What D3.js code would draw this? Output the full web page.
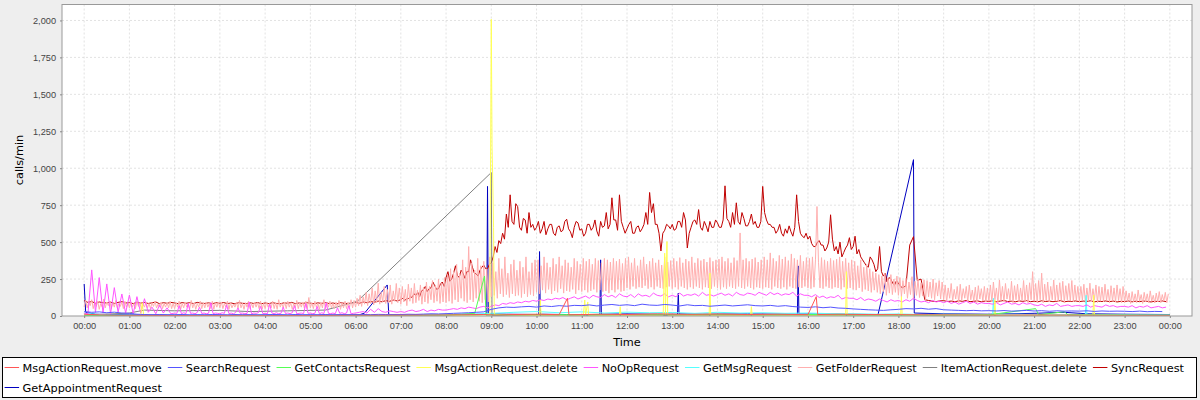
<!DOCTYPE html>
<meta charset="utf-8">
<style>

html, body {
  margin: 0;
  padding: 0;
  background: #eeeeee;
}

svg {
  display: block;
  font-family: "DejaVu Sans", sans-serif;
}

.grid line {
  stroke: #c4c4c4;
  stroke-width: 0.5;
  stroke-dasharray: 2,2;
}

.axis text {
  font-size: 9.2px;
  fill: #444;
}

.axis line, .axis path {
  stroke: #888;
}

.series path {
  fill: none;
  stroke-width: 1;
  stroke-linejoin: round;
}

.label, .legend text {
  font-size: 11.3px;
  fill: #000;
}

</style>
<svg class="chart"></svg>
<script src="https://d3js.org/d3.v7.min.js"></script>
<script>

// values, calls per minute
// regular series: one row per hour, samples spread evenly across the hour
var syncByHour = [
  [104,92,98,86,95,90,88,94,85,92,97,88],
  [90,84,93,87,91,85,89,95,83,90,86,92],
  [88,83,91,86,90,84,92,87,85,89,83,90],
  [86,91,84,88,82,90,86,84,89,85,91,83],
  [88,84,90,85,83,89,86,92,84,88,85,90],
  [87,83,89,85,91,84,88,82,90,86,84,89],
  [92,86,95,90,98,93,101,96,104,99,108,102],
  [110,120,105,115,118,130,126,150,140,160,132,170,178,200,165,185,190,230,205,180,185,215,230,200],
  [260,300,235,250,290,340,275,260,310,290,255,300,300,380,330,290,285,270,310,330,345,320,320,350],
  [360,400,470,430,510,490,560,520,690,600,820,640,620,760,740,600,580,660,650,560,700,600,620,580],
  [600,640,560,590,640,550,590,620,620,560,545,600,610,570,580,640,655,590,570,530,600,640,630,580],
  [590,540,560,620,620,580,600,650,575,540,640,600,610,700,590,620,800,650,650,580,820,640,600,560],
  [590,620,640,560,560,600,610,570,590,620,700,620,836,700,760,620,620,560,440,560,580,620,610,590],
  [620,580,590,640,640,600,700,650,460,560,600,640,650,620,720,600,580,640,610,570,640,600,600,650],
  [630,600,600,650,881,660,640,600,700,620,766,640,620,700,660,610,610,640,690,620,640,600,600,640],
  [877,700,650,620,620,600,600,560,580,620,560,540,590,560,610,570,540,600,820,640,560,540,530,560],
  [520,540,490,470,470,500,510,480,480,440,460,500,685,520,440,470,420,500,400,430,460,480,530,450],
  [470,540,420,450,400,380,360,340,330,400,380,350,300,320,470,300,270,290,230,260,250,220,210,240],
  [220,190,205,480,537,240,250,110,105,100,98,102],
  [104,98,101,96,103,99,105,97,100,102,96,101],
  [99,103,97,101,105,98,100,96,102,99,104,97],
  [100,96,103,98,101,97,99,104,96,100,98,102],
  [97,101,99,103,96,100,98,102,97,101,95,99],
  [98,102,96,100,97,101,99,95,100,98,102,97]
];

var folderByHour = [
  [60,105,55,95,70,110,50,90,65,100,45,85,60,115,55,95,70,100,50,90,60,105,55,85,65,95,50,100,60,90],
  [55,95,60,85,50,100,65,90,45,80,60,95,55,85,50,90,65,100,55,80,60,95,50,85,60,90,55,100,50,85],
  [50,90,60,100,45,85,55,95,60,80,50,105,55,90,45,85,60,100,50,90,55,95,60,85,50,100,45,90,60,95],
  [55,95,50,85,60,100,45,90,55,80,60,95,50,105,55,85,45,90,60,100,50,85,55,95,60,90,50,100,45,85],
  [50,95,60,85,55,100,50,90,45,110,60,85,55,95,50,100,60,90,45,85,55,105,50,90,60,95,55,100,50,125],
  [55,90,50,100,60,85,45,95,55,110,50,90,60,100,55,85,50,95,60,105,45,90,55,100,50,95,60,110,55,105],
  [60,120,70,140,65,130,80,160,70,150,85,190,75,170,90,222,80,160,95,200,85,180,90,210,80,170,100,220,90,190],
  [80,200,95,180,70,215,100,190,85,220,90,175,105,210,80,195,95,230,85,200,110,240,90,210,100,250,85,220,95,260],
  [90,280,100,320,85,300,110,350,95,290,120,380,100,330,90,470,110,360,95,310,120,390,100,340,90,370,110,320,95,400],
  [130,360,140,300,120,390,150,320,130,400,145,290,125,350,150,380,135,310,140,370,125,330,150,400,130,300,145,360,135,380],
  [160,380,150,340,175,400,155,360,180,330,150,390,170,350,160,400,185,340,155,380,170,360,165,330,180,390,150,370,175,350],
  [165,390,175,370,160,385,170,350,180,390,160,375,175,360,165,390,170,380,155,365,175,390,160,370,180,385,165,355,170,390],
  [190,400,180,360,200,390,185,340,195,380,190,400,205,350,185,370,195,390,180,360,200,380,190,345,185,400,195,365,200,375],
  [185,390,195,370,180,395,200,360,190,385,180,370,195,400,185,360,200,390,190,375,180,385,195,365,190,395,185,370,200,380],
  [190,385,180,400,195,370,185,390,200,360,190,395,185,375,200,562,190,380,185,390,200,370,190,385,180,395,195,365,190,380],
  [185,400,195,380,190,427,180,390,200,370,190,410,185,385,195,400,180,375,200,420,190,390,185,380,195,410,190,370,200,395],
  [190,390,185,400,195,380,741,360,190,395,185,380,200,370,190,390,185,375,195,385,190,400,180,370,195,390,185,360,190,380],
  [180,370,175,340,190,380,165,330,180,350,170,320,160,300,175,290,160,280,150,270,165,290,140,260,155,280,145,250,160,270],
  [140,260,130,240,150,255,120,230,145,266,115,235,140,250,125,225,135,245,110,240,130,230,120,250,110,225,135,240,115,230],
  [110,210,95,190,120,220,100,180,115,200,90,215,105,185,120,200,95,210,110,176,100,195,90,205,115,185,100,200,95,190],
  [100,210,95,230,110,190,90,244,105,200,95,220,115,185,100,235,90,205,110,215,95,190,105,240,100,210,90,225,110,300],
  [100,220,95,240,110,290,90,215,105,230,95,200,110,244,100,210,95,225,105,235,90,205,110,220,100,240,95,210,105,200],
  [95,200,105,215,90,190,100,222,95,185,110,210,90,200,100,195,95,215,105,180,90,205,100,190,95,210,105,185,90,200],
  [90,170,100,155,85,165,95,150,90,176,100,145,85,160,95,150,90,170,100,140,88,155,95,165,90,145,100,160,90,150]
];

var noopByHour = [
  [20,15,312,25,260,20,217,15,192,25,149,20],
  [142,15,131,20,117,25,60,15,75,20,55,15],
  [20,18,70,15,22,16,85,18,20,15,24,60,17,20,15,19,90,16,20,18],
  [15,22,18,75,16,20,15,24,55,18,20,16,17,95,15,20,18,22,65,16],
  [18,15,80,20,16,22,15,18,60,17,20,16,22,70,15,18,20,16,85,18],
  [20,16,18,65,15,22,17,90,18,16,20,15,55,18,22,16,20,70,15,18],
  [20,25,30,20,45,25,50,30,25,35,30,25],
  [30,25,35,40,30,35,45,30,40,35,45,40],
  [40,45,50,45,55,50,60,55,50,60,65,55],
  [65,75,70,85,80,90,85,95,90,100,95,105],
  [100,110,105,115,110,120,115,125,110,120,130,115],
  [125,135,120,140,130,125,145,130,140,125,150,135],
  [130,145,125,150,135,140,130,155,140,135,150,130],
  [140,130,155,135,145,140,150,135,160,140,145,135],
  [145,155,140,150,135,160,145,140,155,150,140,160],
  [150,140,160,145,155,140,150,145,160,135,150,140],
  [140,130,145,125,135,120,130,125,140,115,125,120],
  [120,110,125,105,115,110,100,115,105,95,110,100],
  [105,95,110,100,120,105,95,100,90,105,95,100],
  [90,100,85,95,80,90,100,85,95,80,90,85],
  [85,80,90,75,85,95,80,85,75,90,80,85],
  [75,70,80,65,75,70,85,65,70,75,65,70],
  [70,65,75,60,70,65,60,75,65,70,60,65],
  [65,60,70,55,65,60,70,55,60,65,55,60]
];

var searchByHour = [
  [30,25,28,22,26,20],
  [18,12,10,8,10,8],
  [8,10,7,9,8,10],
  [9,7,10,8,9,7],
  [8,10,9,7,10,8],
  [9,8,10,7,9,8],
  [8,10,9,11,10,9],
  [10,12,11,13,15,14],
  [16,18,20,22,25,28],
  [45,55,60,58,62,65],
  [60,68,64,70,66,72],
  [70,75,68,74,78,72],
  [76,70,80,74,72,78],
  [74,68,76,70,72,66],
  [70,74,68,72,76,70],
  [68,72,66,70,64,60],
  [58,62,56,60,54,52],
  [48,45,42,40,38,42],
  [45,50,48,52,46,50],
  [42,40,38,36,38,35],
  [36,34,37,33,35,38],
  [34,36,32,35,33,34],
  [33,35,31,34,32,33],
  [32,30,33,29,31,30]
];

// sparse series: [minute of day, calls/min]
var moveData = [[0,12],[20,8],[45,5],[90,4],[150,3],[210,4],[270,3],[330,4],[390,5],[450,6],[500,8],[530,10],[545,6],[570,10],[600,12],[630,9],[641,120],[643,8],[680,12],[720,10],[760,14],[800,11],[840,13],[880,10],[920,12],[960,9],[971,131],[973,10],[1000,12],[1040,10],[1080,9],[1120,8],[1160,7],[1200,6],[1260,7],[1320,6],[1380,5],[1440,5]];

var contactsData = [[0,4],[60,3],[120,2],[180,3],[240,2],[300,3],[360,4],[420,5],[480,6],[518,18],[531,270],[533,6],[560,8],[600,10],[660,8],[720,10],[780,9],[840,11],[900,8],[960,10],[1020,8],[1080,7],[1140,6],[1200,8],[1262,50],[1266,8],[1300,29],[1305,8],[1380,6],[1440,5]];

var deleteData = [[0,3],[60,2],[75,4],[77,90],[79,3],[200,2],[400,3],[520,4],[538,10],[540,2008],[541,1150],[542,900],[543,600],[544,12],[560,6],[604,4],[605,108],[606,5],[662,5],[664,108],[665,5],[668,95],[669,5],[710,4],[711,63],[712,5],[768,6],[770,425],[771,8],[773,504],[774,6],[800,5],[829,6],[830,290],[831,5],[884,5],[885,63],[886,5],[1010,5],[1011,300],[1012,6],[1083,5],[1084,131],[1085,5],[1207,5],[1208,108],[1209,5],[1338,5],[1339,142],[1340,4],[1440,3]];

var getMsgData = [[0,20],[15,12],[30,8],[60,6],[120,5],[180,4],[240,5],[300,4],[360,5],[420,7],[480,10],[510,12],[540,18],[570,25],[600,30],[630,22],[660,28],[690,20],[720,26],[750,22],[780,24],[810,18],[840,25],[870,20],[900,22],[930,18],[960,20],[990,16],[1020,15],[1050,12],[1080,14],[1110,10],[1140,12],[1180,10],[1205,10],[1206,120],[1207,10],[1240,12],[1280,9],[1328,11],[1329,140],[1330,11],[1360,9],[1400,8],[1440,8]];

var itemDeleteData = [[0,5],[60,20],[80,40],[120,35],[180,38],[220,30],[270,35],[320,40],[362,98],[540,971],[541,4],[600,3],[700,2],[800,3],[900,2],[1000,3],[1100,2],[1200,3],[1300,2],[1440,2]];

var apptData = [[0,217],[2,25],[15,12],[60,8],[120,6],[180,5],[240,6],[300,5],[365,8],[372,20],[402,210],[404,10],[450,8],[500,10],[534,12],[535,877],[536,15],[560,12],[603,10],[604,436],[605,12],[640,10],[684,10],[685,380],[686,12],[720,14],[760,12],[787,12],[788,154],[789,14],[820,12],[880,14],[946,12],[947,339],[948,14],[990,12],[1053,10],[1100,1058],[1101,20],[1140,15],[1200,12],[1260,18],[1300,25],[1330,15],[1380,12],[1440,10]];

var seriesNames = ['MsgActionRequest.move', 'SearchRequest', 'GetContactsRequest', 'MsgActionRequest.delete',
  'NoOpRequest', 'GetMsgRequest', 'GetFolderRequest', 'ItemActionRequest.delete', 'SyncRequest', 'GetAppointmentRequest'];
var seriesColors = ['#ff5555', '#5555ff', '#55ff55', '#ffff55', '#ff55ff', '#55ffff', '#ffafaf', '#808080', '#c00000', '#0000c0'];

var hourTicks = d3.range(0, 1441, 60);
var yTicks = d3.range(0, 2001, 250);

function fromHours (rows) {
  var out = [];
  rows.forEach(function (row, h) {
    row.forEach(function (v, j) { out.push([h * 60 + j * 60 / row.length, v]); });
  });
  return out;
}

var seriesData = [moveData, fromHours(searchByHour), contactsData, deleteData, fromHours(noopByHour),
  getMsgData, fromHours(folderByHour), itemDeleteData, fromHours(syncByHour), apptData];

var series = seriesNames.map(function (name, i) {
  return {name: name, color: seriesColors[i], data: seriesData[i]};
});

var width = 1200;
var height = 400;
var plot = {left: 62, right: 1192, top: 4.5, bottom: 316};

var svg = d3.select('svg.chart')
  .attr('width', width)
  .attr('height', height);

var x = d3.scaleLinear()
  .domain([-29.4, 1469.4])
  .range([plot.left, plot.right]);

var y = d3.scaleLinear()
  .domain([0, 2108])
  .range([plot.bottom, plot.top]);

svg.append('rect')
  .attr('x', plot.left)
  .attr('y', plot.top)
  .attr('width', plot.right - plot.left)
  .attr('height', plot.bottom - plot.top)
  .attr('fill', '#fff');

var grid = svg.append('g').attr('class', 'grid');

grid.selectAll('line.v')
  .data(hourTicks)
  .enter().append('line')
  .attr('class', 'v')
  .attr('x1', function (d) { return x(d); })
  .attr('x2', function (d) { return x(d); })
  .attr('y1', plot.top)
  .attr('y2', plot.bottom);

grid.selectAll('line.h')
  .data(yTicks.slice(1))
  .enter().append('line')
  .attr('class', 'h')
  .attr('x1', plot.left)
  .attr('x2', plot.right)
  .attr('y1', function (d) { return y(d); })
  .attr('y2', function (d) { return y(d); });

svg.append('clipPath')
  .attr('id', 'plot-clip')
  .append('rect')
  .attr('x', plot.left)
  .attr('y', plot.top)
  .attr('width', plot.right - plot.left)
  .attr('height', plot.bottom - plot.top);

var line = d3.line()
  .x(function (d) { return x(d[0]); })
  .y(function (d) { return y(d[1]); });

// JFreeChart paints the first series last, so it sits on top
svg.append('g')
  .attr('class', 'series')
  .attr('clip-path', 'url(#plot-clip)')
  .selectAll('path')
  .data(series.slice().reverse())
  .enter().append('path')
  .attr('stroke', function (d) { return d.color; })
  .attr('d', function (d) { return line(d.data); });

svg.append('rect')
  .attr('x', plot.left)
  .attr('y', plot.top)
  .attr('width', plot.right - plot.left)
  .attr('height', plot.bottom - plot.top)
  .attr('fill', 'none')
  .attr('stroke', '#999')
  .attr('stroke-width', 1);

function hourLabel (m) {
  var h = Math.round(m / 60) % 24;
  return (h < 10 ? '0' : '') + h + ':00';
}

svg.append('g')
  .attr('class', 'axis')
  .attr('transform', 'translate(0,' + plot.bottom + ')')
  .call(d3.axisBottom(x).tickValues(hourTicks).tickSize(2).tickPadding(4).tickFormat(hourLabel))
  .call(function (g) { g.select('.domain').remove(); });

svg.append('g')
  .attr('class', 'axis')
  .attr('transform', 'translate(' + plot.left + ',0)')
  .call(d3.axisLeft(y).tickValues(yTicks).tickSize(2).tickPadding(4).tickFormat(d3.format(',')))
  .call(function (g) { g.select('.domain').remove(); });

svg.append('text')
  .attr('class', 'label')
  .attr('transform', 'translate(23,160) rotate(-90)')
  .attr('text-anchor', 'middle')
  .text('calls/min');

svg.append('text')
  .attr('class', 'label')
  .attr('x', (plot.left + plot.right) / 2)
  .attr('y', 346)
  .attr('text-anchor', 'middle')
  .text('Time');

// legend
var legend = svg.append('g').attr('class', 'legend');

legend.append('rect')
  .attr('x', 2.5)
  .attr('y', 357.5)
  .attr('width', 1194)
  .attr('height', 40)
  .attr('fill', '#fff')
  .attr('stroke', '#000');

var cursor = 4.6;
var row = 0;
series.forEach(function (s) {
  var item = legend.append('g');
  var label = item.append('text')
    .attr('y', 0)
    .text(s.name);
  var w = label.node().getComputedTextLength();
  if (cursor + 18 + w > 1199) {
    cursor = 4.6;
    row += 1;
  }
  var cy = 367.5 + row * 20;
  item.append('line')
    .attr('x1', cursor)
    .attr('x2', cursor + 14.5)
    .attr('y1', cy)
    .attr('y2', cy)
    .attr('stroke', s.color)
    .attr('stroke-width', 1);
  label.attr('x', cursor + 18).attr('y', cy + 4);
  cursor += 18 + w + 6;
});

</script>
